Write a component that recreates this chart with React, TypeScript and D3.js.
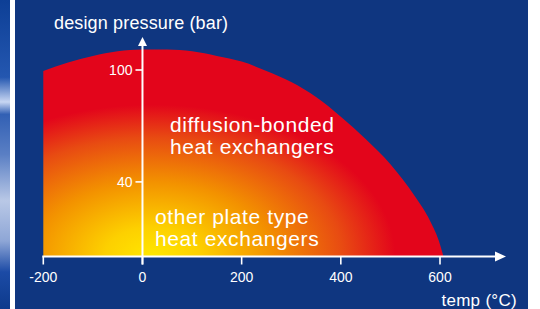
import React, { useEffect, useRef } from "react";
import * as d3 from "d3";

// envelope of the diffusion-bonded region
const temps = [-200, -150, -100, -50, 0, 50, 100, 150, 200, 250, 300, 350, 400, 450, 500, 550, 580, 600, 607];
const pressures = [99.5, 104, 107.5, 110, 111, 111, 110, 107.5, 104.5, 99.5, 93.5, 85.5, 75, 63, 49.5, 32, 19, 6.5, 0];

const xTicks = [-200, 0, 200, 400, 600];
const yTicks = [40, 100];

const labelBonded = ["diffusion-bonded", "heat exchangers"];
const labelOther = ["other plate type", "heat exchangers"];

const WIDTH = 540;
const HEIGHT = 309;
const BLUE = "#0f3680";
const FONT = "'Liberation Sans', Arial, Helvetica, sans-serif";

const App = () => {
  const svgRef = useRef<SVGSVGElement>(null);

  useEffect(() => {
    const svg = d3.select(svgRef.current);
    svg.selectAll("*").remove();

    const x = d3.scaleLinear().domain([-200, 600]).range([43.3, 440]);
    const y = d3.scaleLinear().domain([0, 100]).range([256.5, 70]);

    const defs = svg.append("defs");

    // decorative strip on the left edge
    const strip = defs
      .append("linearGradient")
      .attr("id", "strip")
      .attr("x1", 0)
      .attr("y1", 0)
      .attr("x2", 0)
      .attr("y2", 1);
    [
      [0, "#0d3f96"],
      [0.25, "#2457b0"],
      [0.33, "#c8d6f2"],
      [0.37, "#3260b4"],
      [0.5, "#5a7fc4"],
      [0.65, "#b9c8e6"],
      [0.78, "#8ea6d6"],
      [0.88, "#1c4ba6"],
      [1, "#0d3a8c"],
    ].forEach(([o, c]) => strip.append("stop").attr("offset", o).attr("stop-color", c));

    // heat gradient, yellow at the origin, red towards the envelope
    const cx = x(20);
    const cy = y(0);
    const heat = defs
      .append("radialGradient")
      .attr("id", "heat")
      .attr("gradientUnits", "userSpaceOnUse")
      .attr("cx", cx)
      .attr("cy", cy)
      .attr("r", 165)
      .attr("gradientTransform", `translate(${cx},${cy}) scale(1.6,1) translate(${-cx},${-cy})`);
    [
      [0, "#ffe700"],
      [0.18, "#fdd000"],
      [0.45, "#f39200"],
      [0.72, "#e84b12"],
      [0.92, "#e3051b"],
      [1, "#e3051b"],
    ].forEach(([o, c]) => heat.append("stop").attr("offset", o).attr("stop-color", c));

    svg.append("rect").attr("width", WIDTH).attr("height", HEIGHT).attr("fill", "#ffffff");
    svg.append("rect").attr("width", 10).attr("height", HEIGHT).attr("fill", "url(#strip)");
    svg.append("rect").attr("x", 15).attr("width", 513).attr("height", HEIGHT).attr("fill", BLUE);

    const area = d3
      .area<number>()
      .x((_, i) => x(temps[i]))
      .y0(y(0))
      .y1((d) => y(d))
      .curve(d3.curveMonotoneX);

    svg.append("path").attr("d", area(pressures)).attr("fill", "url(#heat)");

    const white = "#ffffff";

    // x axis with arrow
    const axisY = y(0);
    svg
      .append("line")
      .attr("x1", x(-200) - 1)
      .attr("x2", 497)
      .attr("y1", axisY)
      .attr("y2", axisY)
      .attr("stroke", white)
      .attr("stroke-width", 2);
    svg
      .append("path")
      .attr("d", `M506,${axisY} L495,${axisY - 5} L495,${axisY + 5} Z`)
      .attr("fill", white);

    svg
      .selectAll(".xtick")
      .data(xTicks)
      .enter()
      .append("line")
      .attr("x1", (d) => x(d))
      .attr("x2", (d) => x(d))
      .attr("y1", axisY)
      .attr("y2", axisY + 8)
      .attr("stroke", white)
      .attr("stroke-width", 1.6);

    svg
      .selectAll(".xlabel")
      .data(xTicks)
      .enter()
      .append("text")
      .attr("x", (d) => x(d))
      .attr("y", 282)
      .attr("text-anchor", "middle")
      .attr("fill", white)
      .attr("font-family", FONT)
      .attr("font-size", 14)
      .text((d) => String(d));

    // y axis with arrow
    const axisX = x(0);
    svg
      .append("line")
      .attr("x1", axisX)
      .attr("x2", axisX)
      .attr("y1", axisY + 8)
      .attr("y2", 44)
      .attr("stroke", white)
      .attr("stroke-width", 2);
    svg
      .append("path")
      .attr("d", `M${axisX},37 L${axisX - 4.5},46 L${axisX + 4.5},46 Z`)
      .attr("fill", white);

    svg
      .selectAll(".ytick")
      .data(yTicks)
      .enter()
      .append("line")
      .attr("x1", axisX - 7)
      .attr("x2", axisX)
      .attr("y1", (d) => y(d))
      .attr("y2", (d) => y(d))
      .attr("stroke", white)
      .attr("stroke-width", 1.6);

    svg
      .selectAll(".ylabel")
      .data(yTicks)
      .enter()
      .append("text")
      .attr("x", axisX - 10)
      .attr("y", (d) => y(d) + 5)
      .attr("text-anchor", "end")
      .attr("fill", white)
      .attr("font-family", FONT)
      .attr("font-size", 14)
      .text((d) => String(d));

    // axis titles
    svg
      .append("text")
      .attr("x", 54)
      .attr("y", 29)
      .attr("fill", white)
      .attr("font-family", FONT)
      .attr("font-size", 18)
      .attr("letter-spacing", 0.15)
      .text("design pressure (bar)");

    svg
      .append("text")
      .attr("x", 517)
      .attr("y", 306)
      .attr("text-anchor", "end")
      .attr("fill", white)
      .attr("font-family", FONT)
      .attr("font-size", 17)
      .attr("letter-spacing", 0.3)
      .text("temp (°C)");

    // region labels
    const addLabel = (lines: string[], lx: number, ly: number) => {
      const t = svg
        .append("text")
        .attr("fill", white)
        .attr("font-family", FONT)
        .attr("font-size", 21)
        .attr("letter-spacing", 0.6);
      lines.forEach((s, i) => {
        t.append("tspan").attr("x", lx).attr("y", ly + i * 21.5).text(s);
      });
    };
    addLabel(labelBonded, 170, 132);
    addLabel(labelOther, 155, 224);
  }, []);

  return (
    <svg
      ref={svgRef}
      width={WIDTH}
      height={HEIGHT}
      style={{ position: "fixed", left: 0, top: 0, display: "block" }}
    />
  );
};

export default App;
